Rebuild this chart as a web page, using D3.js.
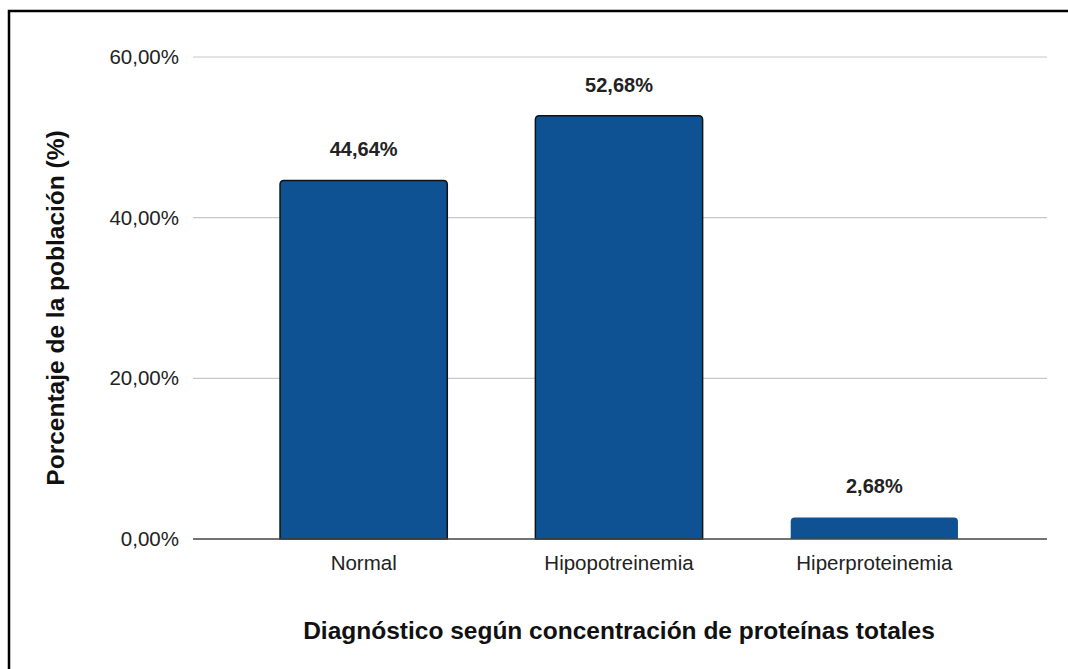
<!DOCTYPE html>
<html><head><meta charset="utf-8">
<script src="https://cdn.jsdelivr.net/npm/d3@7"></script>
<style>body{margin:0;background:#fff}svg{display:block;font-family:"Liberation Sans",Arial,sans-serif}</style>
</head><body>
<svg id="c" width="1068" height="669"></svg>
<script>
const categories = ["Normal", "Hipopotreinemia", "Hiperproteinemia"];
const values = [44.64, 52.68, 2.68];
const valueLabels = ["44,64%", "52,68%", "2,68%"];
const yTicks = [0, 20, 40, 60];
const yTickLabels = ["0,00%", "20,00%", "40,00%", "60,00%"];
const outlined = [true, true, false];

const svg = d3.select("#c");
// outer frame (top and left visible)
svg.append("path").attr("d","M9,669 L9,11 L1068,11").attr("fill","none").attr("stroke","#000").attr("stroke-width",2.5);

const y = d3.scaleLinear().domain([0,60]).range([539,57]);
const x = d3.scaleBand().domain(categories).range([236,1002]).paddingInner(0.345).paddingOuter(0.1725);

const gl = svg.append("g");
gl.selectAll("line").data(yTicks.filter(d=>d>0)).join("line")
  .attr("x1",193).attr("x2",1047).attr("y1",d=>y(d)).attr("y2",d=>y(d))
  .attr("stroke","#c8c8c8").attr("stroke-width",1.2);

const yAxis = d3.axisLeft(y).tickValues(yTicks).tickFormat((d,i)=>yTickLabels[i]).tickSize(0).tickPadding(14);
const ya = svg.append("g").attr("transform","translate(193,0)").call(yAxis);
ya.select(".domain").remove();
ya.selectAll("text").attr("font-size",20.5).attr("fill","#222").attr("font-family","Liberation Sans, Arial, sans-serif");

function barPath(x0,y0,w,h,r){
  r=Math.min(r,h);
  return `M${x0},${y0+h} L${x0},${y0+r} Q${x0},${y0} ${x0+r},${y0} L${x0+w-r},${y0} Q${x0+w},${y0} ${x0+w},${y0+r} L${x0+w},${y0+h} Z`;
}
svg.append("g").selectAll("path").data(values).join("path")
  .attr("d",(d,i)=>barPath(x(categories[i]),y(d),x.bandwidth(),y(0)-y(d),4))
  .attr("fill","#0f5294")
  .attr("stroke",(d,i)=>outlined[i]?"#111":"none").attr("stroke-width",1.5);

svg.append("line").attr("x1",193).attr("x2",1047).attr("y1",y(0)).attr("y2",y(0)).attr("stroke","#444").attr("stroke-width",1.5);

const xAxis = d3.axisBottom(x).tickSize(0).tickPadding(16);
const xa = svg.append("g").attr("transform",`translate(0,${y(0)})`).call(xAxis);
xa.select(".domain").remove();
xa.selectAll("text").attr("font-size",20.5).attr("fill","#222").attr("font-family","Liberation Sans, Arial, sans-serif");

svg.append("g").selectAll("text").data(values).join("text")
  .attr("x",(d,i)=>x(categories[i])+x.bandwidth()/2).attr("y",d=>y(d)-24)
  .attr("text-anchor","middle").attr("font-size",20).attr("font-weight","bold").attr("fill","#222")
  .text((d,i)=>valueLabels[i]);

svg.append("text").attr("transform","translate(64,308) rotate(-90)").attr("text-anchor","middle")
  .attr("font-size",24.5).attr("font-weight","bold").attr("fill","#111").text("Porcentaje de la población (%)");
svg.append("text").attr("x",619).attr("y",639).attr("text-anchor","middle")
  .attr("font-size",24.5).attr("font-weight","bold").attr("fill","#111").text("Diagnóstico según concentración de proteínas totales");
</script>
</body></html>
